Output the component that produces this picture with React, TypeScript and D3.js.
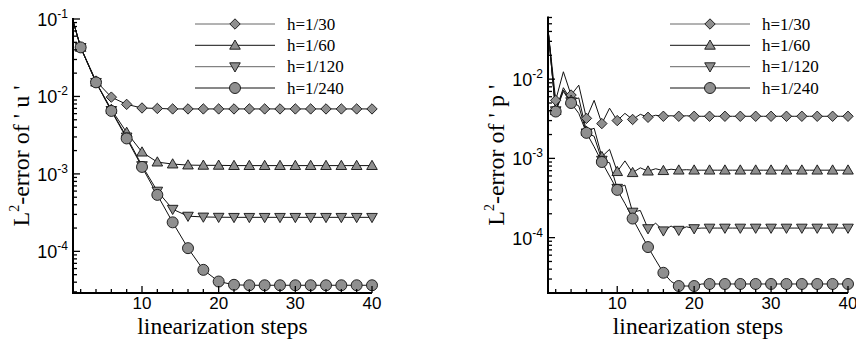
import React, { useEffect, useRef } from "react";
import * as d3 from "d3";

const seriesLabels = ["h=1/30", "h=1/60", "h=1/120", "h=1/240"];
const seriesShapes = ["diamond", "triangle", "triangleDown", "circle"];
const xTickLabels = [10, 20, 30, 40];

// left panel: error of u (markers at even steps)
const stepsU = [1, 2, 4, 6, 8, 10, 12, 14, 16, 18, 20, 22, 24, 26, 28, 30, 32, 34, 36, 38, 40];
const errU30 = [0.095, 0.043, 0.0158, 0.0098, 0.0079, 0.0071, 0.007, 0.0069, 0.0069, 0.0069, 0.0069,
  0.0069, 0.0069, 0.0069, 0.0069, 0.0069, 0.0069, 0.0069, 0.0069, 0.0069, 0.0069];
const errU60 = [0.095, 0.043, 0.0153, 0.0068, 0.00343, 0.00191, 0.00142, 0.00134, 0.0013, 0.00129, 0.00129,
  0.00128, 0.00128, 0.00128, 0.00128, 0.00128, 0.00128, 0.00128, 0.00128, 0.00128, 0.00128];
const errU120 = [0.095, 0.043, 0.0152, 0.0066, 0.003, 0.00128, 0.0006, 0.00035, 0.000285, 0.000278, 0.000276,
  0.000275, 0.000275, 0.000275, 0.000275, 0.000275, 0.000275, 0.000275, 0.000275, 0.000275, 0.000275];
const errU240 = [0.095, 0.043, 0.0152, 0.0065, 0.00287, 0.00123, 0.000536, 0.000237, 0.00011, 0.0000577, 0.0000408,
  0.000037, 0.0000365, 0.0000365, 0.0000365, 0.0000365, 0.0000365, 0.0000365, 0.0000365, 0.0000365, 0.0000365];

// right panel: error of p (every step)
const stepsP = [1, 2, 3, 4, 5, 6, 7, 8, 9, 10, 11, 12, 13, 14, 15, 16, 17, 18, 19, 20,
  21, 22, 23, 24, 25, 26, 27, 28, 29, 30, 31, 32, 33, 34, 35, 36, 37, 38, 39, 40];
const errP30 = [0.043, 0.0054, 0.0124, 0.0063, 0.0084, 0.0032, 0.0054, 0.00275, 0.0043, 0.003,
  0.0037, 0.0031, 0.0036, 0.0033, 0.0035, 0.0034, 0.00345, 0.0034, 0.00345, 0.0034,
  0.0034, 0.0034, 0.0034, 0.0034, 0.0034, 0.0034, 0.0034, 0.0034, 0.0034, 0.0034,
  0.0034, 0.0034, 0.0034, 0.0034, 0.0034, 0.0034, 0.0034, 0.0034, 0.0034, 0.0034];
const errP60 = [0.043, 0.004, 0.0078, 0.0054, 0.0058, 0.0022, 0.0024, 0.00105, 0.0013, 0.00068,
  0.00093, 0.00066, 0.00076, 0.00069, 0.00074, 0.0007, 0.00073, 0.00071, 0.00072, 0.00071,
  0.00071, 0.00071, 0.00071, 0.00071, 0.00071, 0.00071, 0.00071, 0.00071, 0.00071, 0.00071,
  0.00071, 0.00071, 0.00071, 0.00071, 0.00071, 0.00071, 0.00071, 0.00071, 0.00071, 0.00071];
const errP120 = [0.043, 0.004, 0.0073, 0.0052, 0.0046, 0.0021, 0.0019, 0.00095, 0.00088, 0.00042,
  0.00046, 0.00021, 0.00022, 0.00013, 0.000152, 0.000122, 0.00014, 0.000124, 0.000137, 0.00013,
  0.000132, 0.000132, 0.000132, 0.000132, 0.000132, 0.000132, 0.000132, 0.000132, 0.000132, 0.000132,
  0.000132, 0.000132, 0.000132, 0.000132, 0.000132, 0.000132, 0.000132, 0.000132, 0.000132, 0.000132];
const errP240 = [0.043, 0.0039, 0.007, 0.005, 0.0037, 0.0021, 0.0014, 0.0009, 0.0006, 0.0004,
  0.00027, 0.000174, 0.000115, 0.000076, 0.000052, 0.000036, 0.000028, 0.0000245, 0.0000245, 0.0000245,
  0.000026, 0.000026, 0.000026, 0.000026, 0.000026, 0.000026, 0.000026, 0.000026, 0.000026, 0.000026,
  0.000026, 0.000026, 0.000026, 0.000026, 0.000026, 0.000026, 0.000026, 0.000026, 0.000026, 0.000026];

const SERIF = "'Liberation Serif', 'Times New Roman', serif";
const SANS = "'Liberation Sans', Arial, sans-serif";
const MARKER_FILL = "#8f8f8f";

const markerPath = (shape) => {
  if (shape === "diamond") return "M0,-5.2L5.2,0L0,5.2L-5.2,0Z";
  if (shape === "triangle") return "M0,-5.3L5.3,3.9L-5.3,3.9Z";
  if (shape === "triangleDown") return "M0,5.3L5.3,-3.9L-5.3,-3.9Z";
  return "M5.5,0A5.5,5.5,0,1,1,-5.5,0A5.5,5.5,0,1,1,5.5,0Z";
};

const drawPanel = (svg, p) => {
  const g = svg.append("g");
  const x = d3.scaleLinear().domain([1, 40]).range(p.xRange);
  const y = d3.scaleLog().domain(p.yDomain).range(p.yRange);
  const [x0, x1] = p.xRange;
  const [yb, yt] = p.yRange;

  // data lines
  const line = d3
    .line()
    .x((d) => x(d.s))
    .y((d) => y(d.v));
  p.series.forEach((vals) => {
    const pts = p.steps.map((s, i) => ({ s, v: vals[i] }));
    g.append("path")
      .attr("d", line(pts))
      .attr("fill", "none")
      .attr("stroke", "#111")
      .attr("stroke-width", 1);
  });
  // markers on even steps
  p.series.forEach((vals, k) => {
    const pts = p.steps
      .map((s, i) => ({ s, v: vals[i] }))
      .filter((d) => d.s % 2 === 0);
    g.selectAll(null)
      .data(pts)
      .enter()
      .append("path")
      .attr("transform", (d) => `translate(${x(d.s)},${y(d.v)})`)
      .attr("d", markerPath(seriesShapes[k]))
      .attr("fill", MARKER_FILL)
      .attr("stroke", "#111")
      .attr("stroke-width", 0.9);
  });

  // axes lines
  g.append("path")
    .attr("d", `M${x0},${yt - 1}V${yb}H${x1}`)
    .attr("fill", "none")
    .attr("stroke", "#000")
    .attr("stroke-width", 2);

  // y ticks (log)
  y.ticks().forEach((t) => {
    const lg = Math.log10(t);
    const major = Math.abs(lg - Math.round(lg)) < 1e-6;
    g.append("line")
      .attr("x1", x0)
      .attr("x2", x0 + (major ? 7 : 4))
      .attr("y1", y(t))
      .attr("y2", y(t))
      .attr("stroke", "#000")
      .attr("stroke-width", 1.3);
    if (major) {
      const txt = g
        .append("text")
        .attr("x", x0 - 5)
        .attr("y", y(t) + 7)
        .attr("text-anchor", "end")
        .attr("font-family", SANS)
        .attr("font-size", 18)
        .attr("fill", "#000");
      txt.append("tspan").text("10");
      txt
        .append("tspan")
        .attr("dy", -8)
        .attr("font-size", 12)
        .text(String(Math.round(lg)));
    }
  });

  // x ticks
  d3.range(2, 41, 2).forEach((s) => {
    const major = xTickLabels.includes(s);
    g.append("line")
      .attr("x1", x(s))
      .attr("x2", x(s))
      .attr("y1", yb)
      .attr("y2", yb - (major ? 7 : 4))
      .attr("stroke", "#000")
      .attr("stroke-width", 1.3);
  });
  xTickLabels.forEach((s) => {
    g.append("text")
      .attr("x", x(s))
      .attr("y", yb + 16)
      .attr("text-anchor", "middle")
      .attr("font-family", SANS)
      .attr("font-size", 17)
      .text(s);
  });

  // axis titles
  g.append("text")
    .attr("x", (x0 + x1) / 2)
    .attr("y", 334)
    .attr("text-anchor", "middle")
    .attr("font-family", SERIF)
    .attr("font-size", 23.5)
    .text("linearization steps");

  const yl = g
    .append("text")
    .attr("transform", `translate(${x0 - 44},${(yt + yb) / 2}) rotate(-90)`)
    .attr("text-anchor", "middle")
    .attr("font-family", SERIF)
    .attr("font-size", 24);
  yl.append("tspan").text("L");
  yl.append("tspan").attr("dy", -10).attr("font-size", 14).text("2");
  yl.append("tspan").attr("dy", 10).text(`-error of ' ${p.varName} '`);

  // legend
  const rowY = [24, 45.3, 66.7, 88];
  seriesLabels.forEach((lab, k) => {
    const lx = p.legendX;
    g.append("line")
      .attr("x1", lx)
      .attr("x2", lx + 80)
      .attr("y1", rowY[k])
      .attr("y2", rowY[k])
      .attr("stroke", k % 2 === 0 ? "#666" : "#111")
      .attr("stroke-width", 1);
    g.append("path")
      .attr("transform", `translate(${lx + 40},${rowY[k]})`)
      .attr("d", markerPath(seriesShapes[k]))
      .attr("fill", MARKER_FILL)
      .attr("stroke", "#111")
      .attr("stroke-width", 0.9);
    g.append("text")
      .attr("x", lx + 92)
      .attr("y", rowY[k] + 5.5)
      .attr("font-family", SERIF)
      .attr("font-size", 17)
      .text(lab);
  });
};

const App = () => {
  const svgRef = useRef(null);

  useEffect(() => {
    const svg = d3.select(svgRef.current);
    svg.selectAll("*").remove();
    drawPanel(svg, {
      xRange: [73, 372],
      yRange: [293, 19],
      yDomain: [2.9e-5, 0.1],
      steps: stepsU,
      series: [errU30, errU60, errU120, errU240],
      varName: "u",
      legendX: 195,
    });
    drawPanel(svg, {
      xRange: [548, 848],
      yRange: [293, 17.5],
      yDomain: [2e-5, 0.06],
      steps: stepsP,
      series: [errP30, errP60, errP120, errP240],
      varName: "p",
      legendX: 670,
    });
  }, []);

  return (
    <svg
      ref={svgRef}
      width={856}
      height={343}
      style={{ position: "absolute", left: 0, top: 0, background: "#fff" }}
    ></svg>
  );
};

export default App;
